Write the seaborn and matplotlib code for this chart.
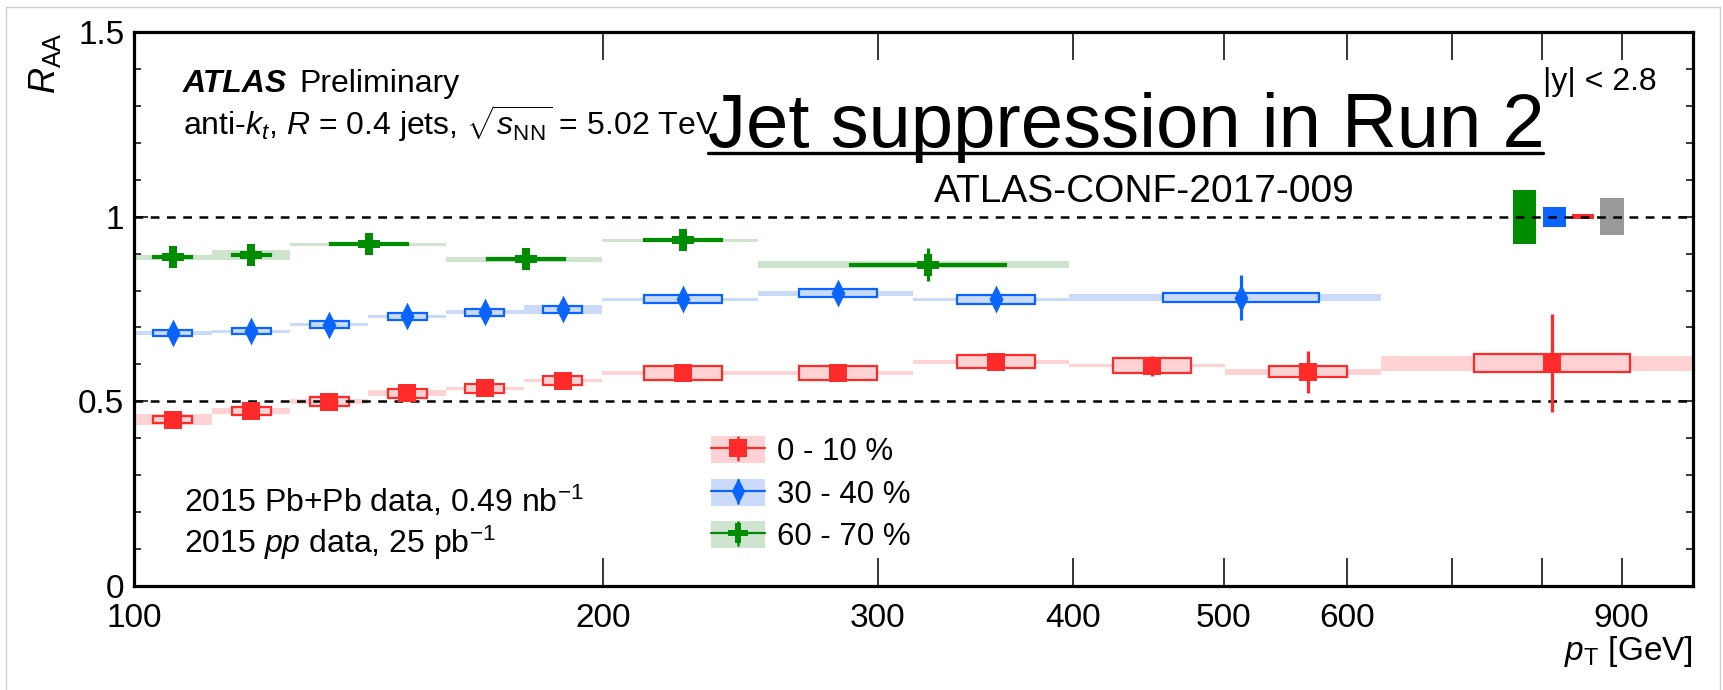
import numpy as np
import matplotlib
matplotlib.use("Agg")
import matplotlib.pyplot as plt
import seaborn as sns
from matplotlib.lines import Line2D
from matplotlib.patches import Patch
from matplotlib.legend_handler import HandlerTuple
from matplotlib.ticker import FixedLocator, FixedFormatter, MultipleLocator, NullLocator

# ---------------- data ----------------
edges_010 = [100, 112.2, 125.9, 141.3, 158.5, 177.8, 199.5, 251.2, 316.2, 398.1, 501.2, 631.0, 1000]
pt_010 = [105.9, 118.9, 133.4, 149.7, 167.9, 188.4, 225, 283, 357, 450, 566, 812]
raa_010 = [0.450, 0.474, 0.499, 0.522, 0.535, 0.556, 0.577, 0.577, 0.607, 0.596, 0.580, 0.603]
stat_010 = [0.008, 0.008, 0.008, 0.009, 0.010, 0.010, 0.012, 0.015, 0.022, 0.028, 0.057, 0.133]
sysu_010 = [0.010, 0.011, 0.012, 0.012, 0.013, 0.012, 0.019, 0.018, 0.018, 0.020, 0.015, 0.024]
sysc_010 = [0.015, 0.009, 0.007, 0.008, 0.005, 0.005, 0.005, 0.005, 0.005, 0.004, 0.008, 0.021]

edges_3040 = [100, 112.2, 125.9, 141.3, 158.5, 177.8, 199.5, 251.2, 316.2, 398.1, 631.0]
pt_3040 = [105.9, 118.9, 133.4, 149.7, 167.9, 188.4, 225, 283, 357, 513]
raa_3040 = [0.685, 0.690, 0.708, 0.730, 0.741, 0.749, 0.776, 0.793, 0.776, 0.781]
stat_3040 = [0.010, 0.010, 0.010, 0.010, 0.012, 0.012, 0.014, 0.016, 0.020, 0.060]
sysu_3040 = [0.009, 0.009, 0.009, 0.009, 0.009, 0.009, 0.011, 0.011, 0.013, 0.011]
sysc_3040 = [0.005, 0.004, 0.005, 0.005, 0.005, 0.012, 0.005, 0.007, 0.005, 0.010]

edges_6070 = [100, 112.2, 125.9, 158.5, 199.5, 251.2, 398.1]
pt_6070 = [105.9, 118.9, 141.5, 178.5, 225, 323]
raa_6070 = [0.890, 0.897, 0.925, 0.885, 0.936, 0.870]
stat_6070 = [0.020, 0.020, 0.020, 0.020, 0.025, 0.044]
sysu_6070 = [0.003, 0.003, 0.003, 0.003, 0.003, 0.003]
sysc_6070 = [0.006, 0.014, 0.005, 0.007, 0.004, 0.009]

series_labels = ["0 - 10 %", "30 - 40 %", "60 - 70 %"]

# global (normalisation) uncertainties: TAA 60-70, TAA 30-40, TAA 0-10, luminosity
global_unc = [0.073, 0.027, 0.006, 0.050]

xtick_values = [100, 200, 300, 400, 500, 600, 700, 800, 900, 1000]
xtick_labels = ["100", "200", "300", "400", "500", "600", "", "", "900", ""]
ytick_values = [0, 0.5, 1.0, 1.5]
ytick_labels = ["0", "0.5", "1", "1.5"]

# ---------------- layout / style ----------------
W, H = 1723, 690
global_x_edges = [(766, 793), (801, 829), (836, 864), (872, 903)]
red, red_l = "#ff2b2b", "#ffd3d3"
blue, blue_l = "#0a64ff", "#cbdaf9"
green, green_l = "#008c00", "#cfe4cf"
gray = "#999999"

sns.set_theme(style="ticks")
plt.rcParams["font.family"] = ["Liberation Sans", "DejaVu Sans"]
plt.rcParams["mathtext.fontset"] = "custom"
plt.rcParams["mathtext.rm"] = "Liberation Sans"
plt.rcParams["mathtext.it"] = "Liberation Sans:italic"
plt.rcParams["mathtext.bf"] = "Liberation Sans:bold"
plt.rcParams["text.color"] = "black"
plt.rcParams["xtick.color"] = "black"
plt.rcParams["ytick.color"] = "black"

fig = plt.figure(figsize=(W / 100, H / 100), dpi=100, facecolor="white")
ax = fig.add_axes([134 / W, 1 - 586 / H, (1693 - 134) / W, (586 - 32) / H])
ax.set_facecolor("white")


def px(x):
    return x / W


def py(y):
    return 1 - y / H


thin_diamond = [(0, 1), (0.5, 0), (0, -1), (-0.5, 0), (0, 1)]


def draw_series(edges, pt, raa, stat, sysu, sysc, color, light, marker, msize):
    e = np.asarray(edges, float)
    lo, hi = e[:-1], e[1:]
    c = np.asarray(pt, float)
    y = np.asarray(raa, float)
    sc = np.asarray(sysc, float)
    su = np.asarray(sysu, float)
    # correlated systematics: shaded band over the full bin
    ax.bar(lo, 2 * sc, width=hi - lo, bottom=y - sc, align="edge",
           color=light, edgecolor="none", linewidth=0, zorder=1)
    # uncorrelated systematics: open box over half the bin (log width)
    q = (hi / lo) ** 0.25
    bl, br = c / q, c * q
    ax.bar(bl, 2 * su, width=br - bl, bottom=y - su, align="edge",
           facecolor=light, edgecolor=color, linewidth=1.6, zorder=2)
    # statistical errors
    ax.errorbar(c, y, yerr=stat, fmt="none", ecolor=color, elinewidth=2.3,
                capsize=0, zorder=4)
    sns.scatterplot(x=c, y=y, marker=marker, s=msize, color=color,
                    linewidth=0, ax=ax, zorder=5, legend=False)


draw_series(edges_6070, pt_6070, raa_6070, stat_6070, sysu_6070, sysc_6070, green, green_l, "P", 250)
draw_series(edges_3040, pt_3040, raa_3040, stat_3040, sysu_3040, sysc_3040, blue, blue_l, thin_diamond, 400)
draw_series(edges_010, pt_010, raa_010, stat_010, sysu_010, sysc_010, red, red_l, "s", 165)

# global uncertainty boxes at unity
for (xl, xr), u, col in zip(global_x_edges, global_unc, [green, blue, red, gray]):
    ax.bar([xl], [2 * u], width=[xr - xl], bottom=[1 - u], align="edge",
           color=col, edgecolor="none", zorder=2)

# reference lines
for yref in (1.0, 0.5):
    ax.axhline(yref, color="black", lw=1.8, ls=(0, (3.5, 3.0)), zorder=3)

# axes / ticks
ax.set_xscale("log")
ax.set_xlim(100, 1000)
ax.set_ylim(0, 1.5)
ax.xaxis.set_major_locator(FixedLocator(xtick_values))
ax.xaxis.set_major_formatter(FixedFormatter(xtick_labels))
ax.xaxis.set_minor_locator(NullLocator())
ax.yaxis.set_major_locator(FixedLocator(ytick_values))
ax.yaxis.set_major_formatter(FixedFormatter(ytick_labels))
ax.yaxis.set_minor_locator(MultipleLocator(0.1))
ax.tick_params(axis="x", which="major", direction="in", length=20, width=1.1,
               top=True, bottom=True, labelsize=24, pad=12)
ax.tick_params(axis="y", which="major", direction="in", length=10, width=1.1,
               left=True, right=True, labelsize=24, pad=7)
ax.tick_params(axis="y", which="minor", direction="in", length=5, width=1.1,
               left=True, right=True)
for sp in ax.spines.values():
    sp.set_linewidth(2.3)
    sp.set_color("black")
ax.set_xlabel("")
ax.set_ylabel("")

# legend
handles = []
for col, light, mk, ms in [(red, red_l, "s", 12.5), (blue, blue_l, thin_diamond, 19), (green, green_l, "P", 15)]:
    patch = Patch(facecolor=light, edgecolor="none")
    hline = Line2D([], [], color=col, lw=1.6)
    vline = Line2D([], [], color=col, marker="|", markersize=18, markeredgewidth=1.8, linestyle="none")
    mark = Line2D([], [], color=col, marker=mk, markersize=ms, markeredgewidth=0, linestyle="none")
    handles.append((patch, hline, vline, mark))
ax.legend(handles, series_labels, handler_map={tuple: HandlerTuple(ndivide=1, pad=0)},
          loc="upper left", bbox_to_anchor=(px(711), py(436)), bbox_transform=fig.transFigure,
          frameon=False, fontsize=22.5, handlelength=1.73, handleheight=0.96,
          handletextpad=0.38, labelspacing=0.36, borderpad=0, borderaxespad=0)

# texts
fig.text(px(183), py(92), "ATLAS", fontsize=23, fontweight="bold", fontstyle="italic", va="baseline")
fig.text(px(299), py(92), "Preliminary", fontsize=23, va="baseline")
fig.text(px(183), py(135), r"anti-$k_{t}$, $R$ = 0.4 jets, $\sqrt{s_{\mathrm{NN}}}$ = 5.02 TeV",
         fontsize=23, va="baseline")
fig.text(px(708), py(147), "Jet suppression in Run 2", fontsize=54.7, va="baseline")
fig.add_artist(Line2D([px(708), px(1543)], [py(152.5), py(152.5)], transform=fig.transFigure,
                      color="black", lw=2.4))
fig.text(px(934), py(202), "ATLAS-CONF-2017-009", fontsize=28, va="baseline")
fig.text(px(1543), py(90), "|y| < 2.8", fontsize=23, va="baseline")
fig.text(px(184), py(512), r"2015 Pb+Pb data, 0.49 nb$^{-1}$", fontsize=23, va="baseline")
fig.text(px(184), py(553), r"2015 $pp$ data, 25 pb$^{-1}$", fontsize=23, va="baseline")
fig.text(px(45), py(32), r"$R_{\mathrm{AA}}$", fontsize=26, rotation=90, ha="center", va="top")
fig.text(px(1693), py(660), r"$p_{\mathrm{T}}$ [GeV]", fontsize=24, ha="right", va="baseline")

# thin grey frame of the picture
frame_col = "#d0d0d0"
fig.add_artist(Line2D([px(6), px(6)], [py(7), 0], transform=fig.transFigure, color=frame_col, lw=1))
fig.add_artist(Line2D([px(6), px(1720)], [py(7), py(7)], transform=fig.transFigure, color=frame_col, lw=1))
fig.add_artist(Line2D([px(1720), px(1720)], [py(7), 0], transform=fig.transFigure, color=frame_col, lw=1))

fig.savefig("out.png", dpi=100, facecolor="white")
